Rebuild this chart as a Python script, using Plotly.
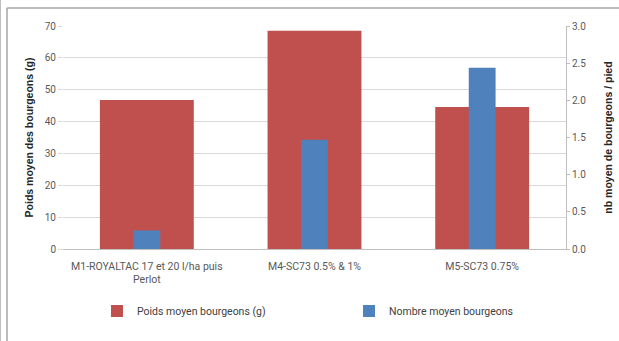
import plotly.graph_objects as go

categories = ["M1-ROYALTAC 17 et 20 l/ha puis<br>Perlot", "M4-SC73 0.5% & 1%", "M5-SC73 0.75%"]
poids = [46.8, 68.5, 44.6]
nombre = [0.25, 1.47, 2.44]

RED = "#C0504D"
BLUE = "#4F81BD"
FONT = "Roboto, Liberation Sans, Arial"

W, H = 619, 341
L, R, T, B = 63, 53, 26, 92
pw, ph = W - L - R, H - T - B

def px(x):
    return (x - L) / pw

def py(y):
    return (H - B - y) / ph

fig = go.Figure()
fig.add_trace(go.Bar(x=categories, y=poids, name="Poids moyen bourgeons (g)",
                     marker=dict(color=RED, line=dict(width=0)), width=0.56,
                     yaxis="y", legend="legend", showlegend=True))
fig.add_trace(go.Bar(x=categories, y=nombre, name="Nombre moyen bourgeons",
                     marker=dict(color=BLUE, line=dict(width=0)), width=0.16,
                     yaxis="y2", legend="legend2", showlegend=True))

fig.update_layout(
    width=W, height=H,
    margin=dict(l=L, r=R, t=T, b=B, autoexpand=False),
    paper_bgcolor="white", plot_bgcolor="white",
    barmode="overlay",
    showlegend=True,
    font=dict(family=FONT, size=10, color="#595959"),
    xaxis=dict(showgrid=False, showline=True, linecolor="#BFBFBF", linewidth=1,
               ticks="outside", ticklen=7, tickcolor="rgba(0,0,0,0)", automargin=False,
               tickfont=dict(size=10.5, color="#595959"), fixedrange=True),
    yaxis=dict(range=[0, 70], dtick=10, showgrid=True, gridcolor="#D9D9D9", gridwidth=1,
               zeroline=False, showline=False, ticks="outside", ticklen=4, tickcolor="#D9D9D9",
               tickfont=dict(size=10, color="#595959"), automargin=False,
               title=dict(text="<b>Poids moyen des bourgeons (g)</b>",
                          font=dict(size=10.5, color="#262626", family="Liberation Sans, Arial"),
                          standoff=9)),
    yaxis2=dict(range=[0, 3], dtick=0.5, tickformat=".1f", overlaying="y", side="right",
                showgrid=False, zeroline=False, showline=True, linecolor="#BFBFBF",
                ticks="outside", ticklen=3, tickcolor="#BFBFBF", automargin=False,
                tickfont=dict(size=10, color="#595959"),
                title=dict(text="<b>nb moyen de bourgeons / pied</b>",
                           font=dict(size=10.5, color="#262626", family="Liberation Sans, Arial"),
                           standoff=19)),
    legend=dict(visible=True, x=px(97), y=py(311), xanchor="left", yanchor="middle",
                orientation="h", font=dict(size=10.5, color="#404040"),
                bgcolor="rgba(0,0,0,0)"),
    legend2=dict(visible=True, x=px(349), y=py(311), xanchor="left", yanchor="middle",
                 orientation="h", font=dict(size=10.5, color="#404040"),
                 bgcolor="rgba(0,0,0,0)"),
    shapes=[
        dict(type="line", xref="paper", yref="paper", x0=px(7), x1=px(7), y0=py(8), y1=py(341),
             line=dict(color="#A6A6A6", width=1.5)),
        dict(type="line", xref="paper", yref="paper", x0=px(7), x1=px(619), y0=py(8), y1=py(8),
             line=dict(color="#A6A6A6", width=1.5)),
        dict(type="line", xref="paper", yref="paper", x0=px(0.5), x1=px(0.5), y0=py(0), y1=py(341),
             line=dict(color="#BFBFBF", width=1)),
    ],
)

fig.write_html("out.html")
